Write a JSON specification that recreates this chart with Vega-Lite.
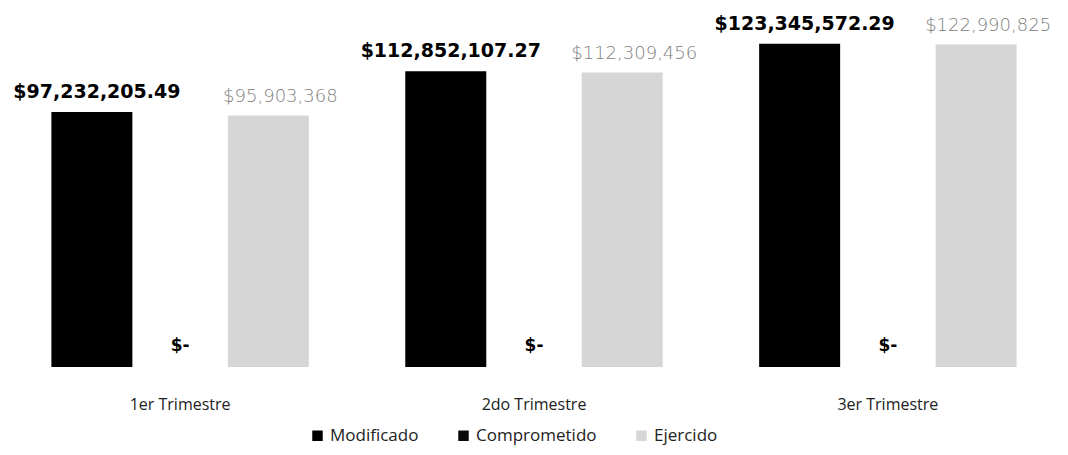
{
  "$schema": "https://vega.github.io/schema/vega-lite/v6.json",
  "autosize": {"type": "none"},
  "padding": {"left": 0, "top": 0, "right": 0, "bottom": 88},
  "width": 1068,
  "height": 367,
  "background": "white",
  "config": {"view": {"stroke": null}},
  "data": {
    "values": [
      {"trimestre": "1er Trimestre", "serie": "Modificado", "valor": 97232205.49},
      {"trimestre": "1er Trimestre", "serie": "Comprometido", "valor": 0},
      {"trimestre": "1er Trimestre", "serie": "Ejercido", "valor": 95903368},
      {"trimestre": "2do Trimestre", "serie": "Modificado", "valor": 112852107.27},
      {"trimestre": "2do Trimestre", "serie": "Comprometido", "valor": 0},
      {"trimestre": "2do Trimestre", "serie": "Ejercido", "valor": 112309456},
      {"trimestre": "3er Trimestre", "serie": "Modificado", "valor": 123345572.29},
      {"trimestre": "3er Trimestre", "serie": "Comprometido", "valor": 0},
      {"trimestre": "3er Trimestre", "serie": "Ejercido", "valor": 122990825}
    ]
  },
  "encoding": {
    "x": {
      "field": "trimestre", "type": "nominal", "sort": null,
      "scale": {"paddingInner": 0.252, "paddingOuter": 0.135},
      "axis": {"title": null, "domain": false, "ticks": false, "labelAngle": 0, "labelPadding": 29, "labelFont": "Open Sans", "labelFontSize": 16, "labelColor": "#222222"}
    },
    "xOffset": {
      "field": "serie", "type": "nominal", "sort": ["Modificado", "Comprometido", "Ejercido"],
      "scale": {"paddingInner": 0.082, "paddingOuter": 0.041}
    },
    "y": {
      "field": "valor", "type": "quantitative",
      "scale": {"domain": [0, 140000000]},
      "axis": null
    }
  },
  "layer": [
    {
      "mark": {"type": "bar"},
      "encoding": {
        "color": {
          "field": "serie", "type": "nominal",
          "sort": ["Modificado", "Comprometido", "Ejercido"],
          "scale": {"domain": ["Modificado", "Comprometido", "Ejercido"], "range": ["#000000", "#0a0a0a", "#d6d6d6"]},
          "legend": {
            "title": null, "orient": "none", "legendX": 309, "legendY": 427, "direction": "horizontal",
            "symbolType": "square", "symbolSize": 110, "symbolStrokeWidth": 0,
            "labelFont": "Open Sans", "labelFontSize": 17, "labelColor": "#222222",
            "columnPadding": 36, "labelOffset": 4
          }
        }
      }
    },
    {
      "transform": [{"filter": "datum.serie === 'Modificado'"}],
      "mark": {"type": "text", "font": "DejaVu Sans", "fontWeight": "bold", "fontSize": 19, "dy": -20, "dx": 5, "color": "#000000"},
      "encoding": {"text": {"field": "valor", "type": "quantitative", "format": "$,.2f"}}
    },
    {
      "transform": [{"filter": "datum.serie === 'Ejercido'"}],
      "mark": {"type": "text", "font": "DejaVu Sans", "fontWeight": 300, "fontSize": 18, "dy": -19, "dx": 12, "color": "#808080"},
      "encoding": {"text": {"field": "valor", "type": "quantitative", "format": "$,.0f"}}
    },
    {
      "transform": [{"filter": "datum.serie === 'Comprometido'"}],
      "mark": {"type": "text", "font": "DejaVu Sans", "fontWeight": "bold", "fontSize": 17, "dy": -21, "color": "#000000"},
      "encoding": {"text": {"value": "$-"}}
    }
  ]
}
